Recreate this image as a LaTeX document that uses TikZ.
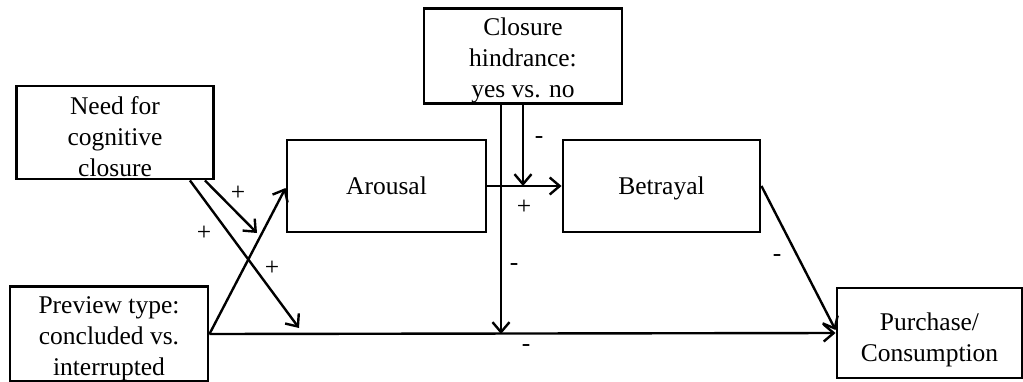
\documentclass[tikz,border=0pt]{standalone}
\usepackage{fontspec}
\setmainfont{Liberation Serif}
\usepackage{tikz}
\usetikzlibrary{arrows.meta}
\newcommand{\toppad}{\rule{0pt}{27pt}}
\tikzset{
    varbox/.style={draw,line width=2.9pt,rectangle,align=center,inner sep=0pt,minimum width=#1},
    varbox/.default=197pt,
    arr/.style={line width=2.4pt,-{Straight Barb[length=10pt,width=17pt,line width=2.4pt]}},
    sign/.style={inner sep=0pt}
}
\begin{document}
\begin{tikzpicture}[x=1pt,y=-1pt,font=\fontsize{25.5}{31}\selectfont]
        \useasboundingbox (0,0) rectangle (1023,381);
        \node[varbox,minimum height=93pt] (need) at (115,132.5) {\toppad Need for\\cognitive\\closure};
        \node[varbox=198pt,minimum height=92pt] (preview) at (109,334) {\toppad Preview type:\\concluded vs.\\interrupted};
        \node[varbox=199pt,minimum height=92pt] (arousal) at (386.5,186) {\rule[-7pt]{0pt}{30pt}Arousal};
        \node[varbox=198pt,minimum height=94pt] (hindrance) at (523,56) {\toppad Closure\\hindrance:\\yes vs. no};
        \node[varbox,minimum height=92pt] (betrayal) at (661.5,186) {\rule[-7pt]{0pt}{30pt}Betrayal};
        \node[varbox=185pt,minimum height=90pt] (purchase) at (929.5,333) {\rule{0pt}{32pt}Purchase/\\Consumption};
        \coordinate (modA) at (257,233);
        \coordinate (modB) at (299,328);
        \coordinate (modC) at (523,186);
        \coordinate (modD) at (501,334);
        \draw[arr] (preview.east) -- ([yshift=-2pt]arousal.west);
        \draw[arr] (preview.east) -- (purchase.west);
        \draw[arr] (arousal.east) -- (betrayal.west);
        \draw[arr] (betrayal.east) -- ([yshift=3pt]purchase.west);
        \draw[arr] ([xshift=-10pt]need.south east) -- (modA);
        \draw[arr] ([xshift=-25pt]need.south east) -- (modB);
        \draw[arr] (hindrance.south) -- (modC);
        \draw[arr] ([xshift=-22pt]hindrance.south) -- (modD);
        \node[sign] (pA) at (238,193) {+};
        \node[sign] (pB) at (204,233) {+};
        \node[sign] (pC) at (272,268) {+};
        \node[sign] (mA) at (539,140) {-};
        \node[sign] (pD) at (524,207) {+};
        \node[sign] (mB) at (514,267) {-};
        \node[sign] (mC) at (526,348) {-};
        \node[sign] (mD) at (777,258) {-};
    \end{tikzpicture}
\end{document}
